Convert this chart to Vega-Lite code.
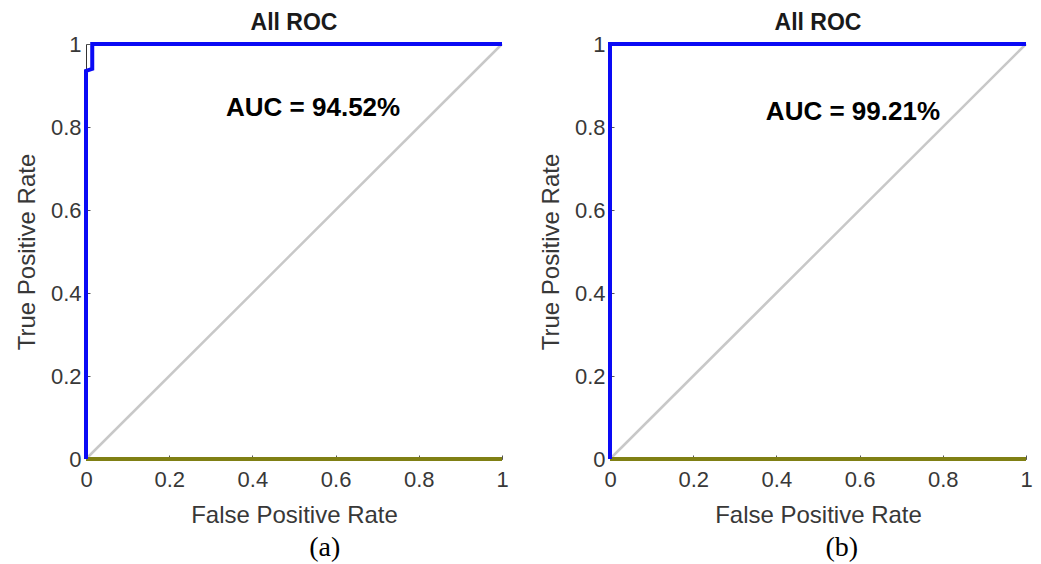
{
  "$schema": "https://vega.github.io/schema/vega-lite/v6.json",
  "padding": {"left": 15, "top": 12, "right": 5, "bottom": 5},
  "spacing": 29,
  "datasets": {
    "roc": [
      {"panel": "a", "series": "diag", "i": 0, "fpr": 0, "tpr": 0},
      {"panel": "a", "series": "diag", "i": 1, "fpr": 1, "tpr": 1},
      {"panel": "a", "series": "base", "i": 0, "fpr": 0, "tpr": 0},
      {"panel": "a", "series": "base", "i": 1, "fpr": 1, "tpr": 0},
      {"panel": "a", "series": "roc", "i": 0, "fpr": 0, "tpr": 0},
      {"panel": "a", "series": "roc", "i": 1, "fpr": 0, "tpr": 0.935},
      {"panel": "a", "series": "roc", "i": 2, "fpr": 0.015, "tpr": 0.94},
      {"panel": "a", "series": "roc", "i": 3, "fpr": 0.015, "tpr": 1},
      {"panel": "a", "series": "roc", "i": 4, "fpr": 1, "tpr": 1},
      {"panel": "b", "series": "diag", "i": 0, "fpr": 0, "tpr": 0},
      {"panel": "b", "series": "diag", "i": 1, "fpr": 1, "tpr": 1},
      {"panel": "b", "series": "base", "i": 0, "fpr": 0, "tpr": 0},
      {"panel": "b", "series": "base", "i": 1, "fpr": 1, "tpr": 0},
      {"panel": "b", "series": "roc", "i": 0, "fpr": 0, "tpr": 0},
      {"panel": "b", "series": "roc", "i": 1, "fpr": 0, "tpr": 1},
      {"panel": "b", "series": "roc", "i": 2, "fpr": 1, "tpr": 1}
    ],
    "auc": [
      {"panel": "a", "fpr": 0.546, "tpr": 0.846, "label": "AUC = 94.52%"},
      {"panel": "b", "fpr": 0.584, "tpr": 0.837, "label": "AUC = 99.21%"}
    ]
  },
  "hconcat": [
    {
      "title": {"text": "(a)", "orient": "bottom", "anchor": "middle", "font": "Liberation Serif", "fontSize": 28, "fontWeight": "normal", "color": "#000000", "dx": 62, "offset": 7},
      "vconcat": [
        {
          "width": 416, "height": 415,
          "title": {"text": "All ROC", "anchor": "middle", "font": "Liberation Sans", "fontSize": 23, "fontWeight": "bold", "color": "#1a1a1a", "offset": -2},
          "encoding": {
            "x": {"field": "fpr", "type": "quantitative", "scale": {"domain": [0, 1], "nice": false}, "axis": {"title": "False Positive Rate", "values": [0, 0.2, 0.4, 0.6, 0.8, 1], "format": "~g"}},
            "y": {"field": "tpr", "type": "quantitative", "scale": {"domain": [0, 1], "nice": false}, "axis": {"title": "True Positive Rate", "values": [0, 0.2, 0.4, 0.6, 0.8, 1], "format": "~g"}}
          },
          "layer": [
            {"data": {"name": "roc"}, "transform": [{"filter": "datum.panel === 'a' && datum.series === 'diag'"}], "mark": {"type": "line", "color": "#c8c8c8", "strokeWidth": 2.5, "clip": false}, "encoding": {"order": {"field": "i"}}},
            {"data": {"name": "roc"}, "transform": [{"filter": "datum.panel === 'a' && datum.series === 'base'"}], "mark": {"type": "line", "color": "#808014", "strokeWidth": 4, "clip": false}, "encoding": {"order": {"field": "i"}}},
            {"data": {"name": "roc"}, "transform": [{"filter": "datum.panel === 'a' && datum.series === 'roc'"}], "mark": {"type": "line", "color": "#0a0af5", "strokeWidth": 4, "clip": false, "strokeJoin": "miter"}, "encoding": {"order": {"field": "i"}}},
            {"data": {"name": "auc"}, "transform": [{"filter": "datum.panel === 'a'"}], "mark": {"type": "text", "font": "Liberation Sans", "fontSize": 26, "fontWeight": "bold", "color": "#000000"}, "encoding": {"text": {"field": "label"}}}
          ]
        }
      ]
    },
    {
      "title": {"text": "(b)", "orient": "bottom", "anchor": "middle", "font": "Liberation Serif", "fontSize": 28, "fontWeight": "normal", "color": "#000000", "dx": 55, "offset": 7},
      "vconcat": [
        {
          "width": 416, "height": 415,
          "title": {"text": "All ROC", "anchor": "middle", "font": "Liberation Sans", "fontSize": 23, "fontWeight": "bold", "color": "#1a1a1a", "offset": -2},
          "encoding": {
            "x": {"field": "fpr", "type": "quantitative", "scale": {"domain": [0, 1], "nice": false}, "axis": {"title": "False Positive Rate", "values": [0, 0.2, 0.4, 0.6, 0.8, 1], "format": "~g"}},
            "y": {"field": "tpr", "type": "quantitative", "scale": {"domain": [0, 1], "nice": false}, "axis": {"title": "True Positive Rate", "values": [0, 0.2, 0.4, 0.6, 0.8, 1], "format": "~g"}}
          },
          "layer": [
            {"data": {"name": "roc"}, "transform": [{"filter": "datum.panel === 'b' && datum.series === 'diag'"}], "mark": {"type": "line", "color": "#c8c8c8", "strokeWidth": 2.5, "clip": false}, "encoding": {"order": {"field": "i"}}},
            {"data": {"name": "roc"}, "transform": [{"filter": "datum.panel === 'b' && datum.series === 'base'"}], "mark": {"type": "line", "color": "#808014", "strokeWidth": 4, "clip": false}, "encoding": {"order": {"field": "i"}}},
            {"data": {"name": "roc"}, "transform": [{"filter": "datum.panel === 'b' && datum.series === 'roc'"}], "mark": {"type": "line", "color": "#0a0af5", "strokeWidth": 4, "clip": false, "strokeJoin": "miter"}, "encoding": {"order": {"field": "i"}}},
            {"data": {"name": "auc"}, "transform": [{"filter": "datum.panel === 'b'"}], "mark": {"type": "text", "font": "Liberation Sans", "fontSize": 26, "fontWeight": "bold", "color": "#000000"}, "encoding": {"text": {"field": "label"}}}
          ]
        }
      ]
    }
  ],
  "config": {
    "view": {"stroke": null},
    "font": "Liberation Sans",
    "axis": {
      "grid": false,
      "labelFlush": false,
      "domainColor": "#333333",
      "domainWidth": 1,
      "tickColor": "#555555",
      "tickSize": -4,
      "labelPadding": 12,
      "labelColor": "#383838",
      "labelFont": "Liberation Sans",
      "labelFontSize": 22,
      "titleColor": "#383838",
      "titleFont": "Liberation Sans",
      "titleFontSize": 24,
      "titleFontWeight": "normal"
    },
    "axisY": {"titlePadding": 11, "labelPadding": 9},
    "axisX": {"titlePadding": 13, "labelPadding": 14}
  }
}
